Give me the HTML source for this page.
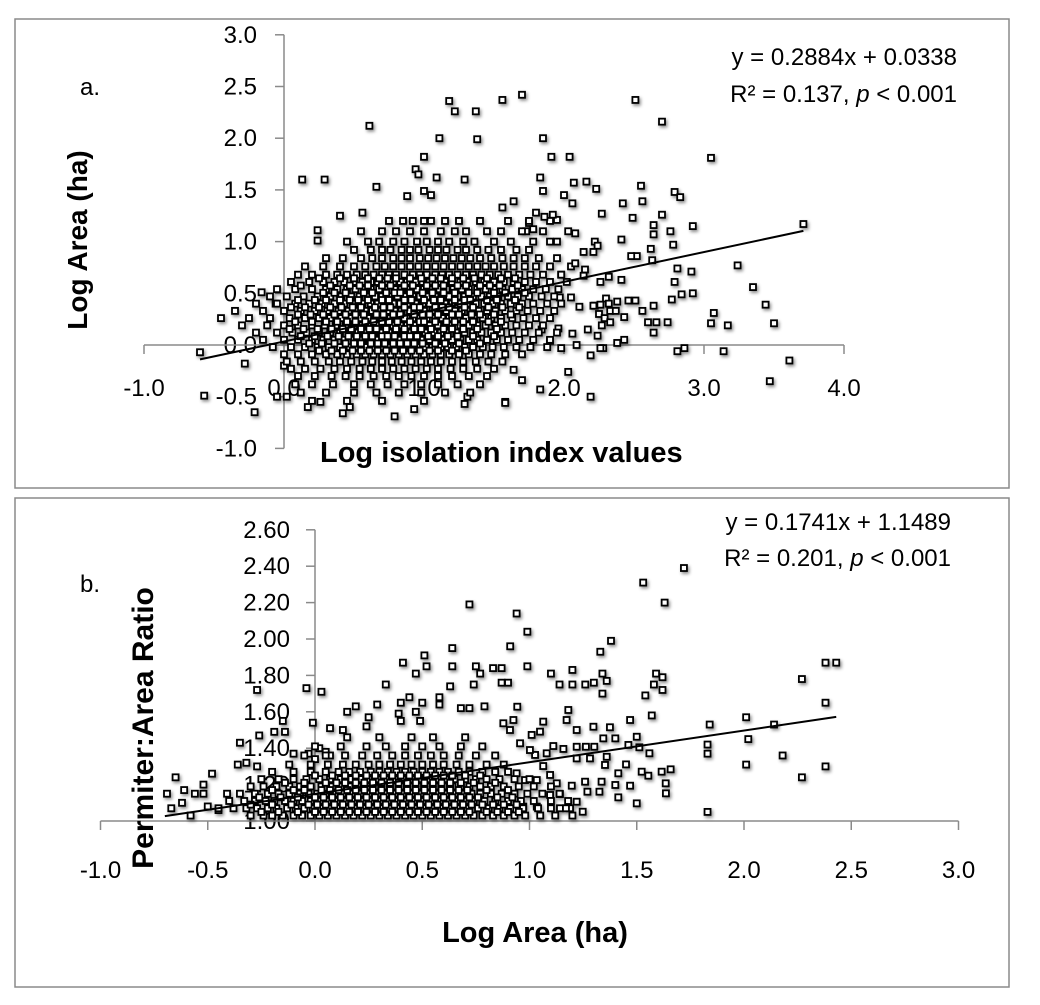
<!DOCTYPE html>
<html><head><meta charset="utf-8"><style>
html,body{margin:0;padding:0;background:#fff;}
svg text{font-family:"Liberation Sans",sans-serif;fill:#000;}
</style></head><body>
<svg id="chart" width="1040" height="1000" viewBox="0 0 1040 1000" xmlns="http://www.w3.org/2000/svg">
<defs><filter id="sh" x="-5%" y="-5%" width="110%" height="110%"><feDropShadow dx="1.5" dy="2" stdDeviation="1.5" flood-color="#000" flood-opacity="0.45"/></filter></defs>
<rect x="15" y="19" width="994" height="469" fill="none" stroke="#8a8a8a" stroke-width="1.5"/>
<rect x="15" y="498" width="994" height="489" fill="none" stroke="#8a8a8a" stroke-width="1.5"/>
<g id="ga"></g>
<g id="gb"></g>
<text x="80" y="95" font-size="24">a.</text>
<text x="80" y="592" font-size="24">b.</text>
<text x="957" y="65" font-size="24" text-anchor="end">y = 0.2884x + 0.0338</text>
<text x="957" y="102" font-size="24" text-anchor="end">R² = 0.137, <tspan font-style="italic">p</tspan> &lt; 0.001</text>
<text x="951" y="530" font-size="24" text-anchor="end">y = 0.1741x + 1.1489</text>
<text x="951" y="566" font-size="24" text-anchor="end">R² = 0.201, <tspan font-style="italic">p</tspan> &lt; 0.001</text>
<text transform="translate(87,240) rotate(-90)" font-size="28" font-weight="bold" text-anchor="middle">Log Area (ha)</text>
<text x="320" y="462" font-size="29" font-weight="bold">Log isolation index values</text>
<text transform="translate(153,728) rotate(-90)" font-size="30" font-weight="bold" text-anchor="middle">Permiter:Area Ratio</text>
<text x="535" y="942" font-size="29" font-weight="bold" text-anchor="middle">Log Area (ha)</text>
</svg>
<script>
// ---------- Panel A data ----------
const aXTicks = [-1.0, 0.0, 1.0, 2.0, 3.0, 4.0];
const aXTickLabels = ["-1.0","0.0","1.0","2.0","3.0","4.0"];
const aYTicks = [-1.0,-0.5,0.0,0.5,1.0,1.5,2.0,2.5,3.0];
const aYTickLabels = ["-1.0","-0.5","0.0","0.5","1.0","1.5","2.0","2.5","3.0"];
const aSlope = 0.2884, aIntercept = 0.0338, aLineRange = [-0.6, 3.71];
const aOutliers = [[-0.6,-0.07],[-0.28,-0.18],[-0.57,-0.49],[-0.21,-0.65],[-0.16,0.51],[-0.06,0.4],[0.13,1.6],[0.29,1.6],[0.61,2.12],[0.24,1.11],[0.24,1.01],[0.4,1.25],[0.56,1.28],[0.66,1.53],[1.18,2.36],[1.22,2.26],[1.37,2.26],[1.11,2.0],[1.38,1.99],[1.56,2.37],[1.0,1.82],[0.94,1.7],[0.96,1.65],[1.09,1.62],[1.29,1.6],[1.0,1.49],[1.05,1.45],[0.88,1.44],[0.79,-0.69],[0.93,-0.62],[0.42,-0.66],[0.47,-0.6],[0.17,-0.6],[0.26,-0.55],[1.29,-0.57],[1.31,-0.5],[1.58,-0.55],[0.0,-0.2],[0.02,-0.5],[-0.05,-0.5],
[1.7,2.42],[2.51,2.37],[2.7,2.16],[1.85,2.0],[1.91,1.82],[2.04,1.82],[3.05,1.81],[1.83,1.62],[1.85,1.49],[2.07,1.57],[2.16,1.58],[2.23,1.51],[2.0,1.45],[2.06,1.37],[2.55,1.54],[2.56,1.39],[2.79,1.48],[2.83,1.43],[2.27,1.27],[2.42,1.37],[2.49,1.23],[2.7,1.26],[2.64,1.16],[2.64,1.07],[2.76,1.1],[2.78,0.97],[2.92,1.15],[3.71,1.17],[3.24,0.77],[3.35,0.56],[3.44,0.39],[3.5,0.21],[3.61,-0.15],[3.47,-0.35],[3.14,-0.06],[3.07,0.31],[3.05,0.21],[3.17,0.19],[2.81,0.74],[2.91,0.71],[2.79,0.61],[2.77,0.44],[2.84,0.49],[2.92,0.5],[2.56,0.33],[2.64,0.38],[2.6,0.22],[2.66,0.22],[2.64,0.12],[2.74,0.22],[2.81,-0.06],[2.86,-0.03],[2.52,0.86],[2.62,0.93],[2.63,0.82],[2.41,1.02],
[2.3,0.45],[2.38,0.42],[2.46,0.43],[2.51,0.43],[2.32,0.4],[2.22,0.38],[2.26,0.39],[2.33,0.33],[2.38,0.02],[2.43,0.05],[2.19,-0.1],[2.28,-0.03],[2.03,-0.26],[1.83,-0.43],[1.7,-0.34],[1.64,-0.24],[1.58,-0.56],[2.19,-0.5],
[1.95,1.0],[2.08,1.08],[2.03,1.1],[2.14,0.9],[2.22,1.0],[2.24,0.96],[2.21,0.9],[1.9,1.2],[1.95,1.21],[1.92,1.26],[1.86,1.24],[1.8,1.28],[1.75,1.18],[1.78,1.12],[1.73,1.1],[1.56,1.33],[1.64,1.39],[1.98,0.68],[2.05,0.76],[2.08,0.79],[2.15,0.73],[2.14,0.67],[2.26,0.61],[2.32,0.66],[2.41,0.63],[2.48,0.86],
[1.97,0.46],[2.05,0.46],[2.11,0.37],[2.21,0.38],[2.25,0.3],[2.29,0.26],[2.27,0.19],[2.33,0.22],[2.37,0.33],[2.43,0.27],[1.96,0.16],[2.06,0.11],[2.09,0.0],[1.98,-0.03],[1.9,0.04],[1.84,0.15],[2.17,0.15],[2.24,0.09],[2.26,-0.03]];
const aRowY = [1.2,1.1,1.0,0.92,0.84,0.76,0.68,0.61,0.54,0.47,0.40,0.33,0.26,0.19,0.12,0.05,-0.02,-0.09,-0.16,-0.23,-0.30,-0.38,-0.46,-0.54,
0.645,0.575,0.505,0.435,0.365,0.295,0.225,0.155,0.085,0.015,-0.055];
const aRowX = [
[0.75,0.85,0.92,1.0,1.05,1.15,1.25,1.4,1.6,1.75],
[0.55,0.7,0.8,0.9,1.0,1.12,1.22,1.3,1.45,1.55,1.7,1.85],
[0.45,0.6,0.68,0.78,0.86,0.95,1.02,1.1,1.18,1.28,1.36,1.5,1.62,1.78,1.9],
[0.5,0.62,0.7,0.76,0.84,0.9,0.96,1.04,1.1,1.16,1.24,1.3,1.38,1.46,1.55,1.66,1.75],
[0.3,0.42,0.55,0.63,0.7,0.78,0.84,0.9,0.97,1.03,1.09,1.15,1.21,1.27,1.33,1.4,1.48,1.56,1.64,1.72,1.82,1.95],
[0.15,0.28,0.4,0.5,0.58,0.66,0.72,0.78,0.84,0.9,0.96,1.02,1.08,1.14,1.2,1.26,1.32,1.38,1.44,1.5,1.57,1.64,1.72,1.8,1.9],
[0.1,0.2,0.3,0.38,0.45,0.52,0.58,0.64,0.7,0.75,0.8,0.86,0.92,0.97,1.02,1.08,1.13,1.18,1.24,1.3,1.35,1.41,1.47,1.53,1.6,1.68,1.76,1.85,1.98],
[0.05,0.18,0.28,0.36,0.43,0.5,0.56,0.62,0.67,0.72,0.78,0.83,0.88,0.94,0.99,1.04,1.1,1.15,1.2,1.26,1.31,1.37,1.43,1.5,1.57,1.64,1.72,1.8,1.9,2.02],
[-0.05,0.08,0.2,0.3,0.38,0.45,0.51,0.57,0.62,0.68,0.73,0.79,0.84,0.89,0.95,1.0,1.05,1.11,1.16,1.21,1.27,1.32,1.38,1.44,1.5,1.56,1.63,1.7,1.78,1.87,1.96],
[-0.1,0.02,0.14,0.24,0.33,0.41,0.48,0.54,0.6,0.65,0.7,0.76,0.81,0.86,0.92,0.97,1.02,1.08,1.13,1.18,1.24,1.29,1.35,1.41,1.47,1.53,1.6,1.67,1.75,1.84,1.93],
[-0.2,-0.05,0.08,0.18,0.27,0.36,0.43,0.5,0.56,0.62,0.67,0.72,0.78,0.83,0.88,0.94,0.99,1.04,1.1,1.15,1.2,1.26,1.31,1.37,1.43,1.49,1.55,1.62,1.7,1.78,1.88,1.98],
[-0.35,-0.15,0.0,0.12,0.22,0.31,0.39,0.46,0.52,0.58,0.63,0.68,0.74,0.79,0.84,0.9,0.95,1.0,1.06,1.11,1.16,1.22,1.27,1.33,1.39,1.45,1.51,1.58,1.66,1.74,1.83,1.93],
[-0.45,-0.25,-0.1,0.04,0.15,0.25,0.33,0.41,0.48,0.54,0.6,0.65,0.7,0.76,0.81,0.86,0.92,0.97,1.02,1.08,1.13,1.18,1.24,1.3,1.36,1.42,1.48,1.55,1.63,1.71,1.8,1.9],
[-0.3,-0.12,0.0,0.1,0.2,0.29,0.37,0.44,0.5,0.56,0.62,0.67,0.72,0.78,0.83,0.88,0.94,0.99,1.04,1.1,1.15,1.2,1.26,1.32,1.38,1.44,1.51,1.58,1.66,1.75,1.85],
[-0.2,-0.05,0.06,0.16,0.25,0.33,0.4,0.47,0.53,0.59,0.64,0.69,0.75,0.8,0.85,0.91,0.96,1.01,1.07,1.12,1.17,1.23,1.29,1.35,1.41,1.48,1.55,1.63,1.72,1.82,1.95],
[-0.15,0.0,0.1,0.2,0.28,0.36,0.43,0.5,0.56,0.61,0.66,0.72,0.77,0.82,0.88,0.93,0.98,1.04,1.09,1.14,1.2,1.26,1.32,1.38,1.45,1.52,1.6,1.68,1.78,1.9],
[-0.08,0.05,0.15,0.24,0.32,0.4,0.47,0.53,0.58,0.64,0.69,0.74,0.8,0.85,0.9,0.96,1.01,1.06,1.12,1.17,1.23,1.29,1.35,1.42,1.49,1.57,1.66,1.76,1.88],
[0.0,0.1,0.2,0.3,0.38,0.45,0.52,0.58,0.64,0.7,0.76,0.82,0.88,0.94,1.0,1.06,1.12,1.18,1.25,1.32,1.4,1.48,1.58,1.7],
[0.02,0.12,0.22,0.32,0.4,0.48,0.56,0.63,0.7,0.77,0.84,0.91,0.98,1.05,1.12,1.2,1.28,1.37,1.46,1.56],
[0.05,0.15,0.26,0.36,0.45,0.54,0.62,0.7,0.78,0.86,0.94,1.02,1.1,1.19,1.28,1.38,1.5],
[0.1,0.22,0.34,0.44,0.54,0.64,0.73,0.82,0.91,1.0,1.1,1.2,1.32,1.45],
[0.08,0.2,0.35,0.5,0.62,0.74,0.86,0.98,1.1,1.24,1.4],
[0.12,0.3,0.5,0.66,0.82,0.98,1.15,1.33],
[0.2,0.45,0.7,1.0],
[0.25,0.4,0.5,0.6,0.68,0.74,0.8,0.9,0.98,1.06,1.12,1.2,1.28,1.36,1.45,1.55,1.65],
[0.12,0.33,0.47,0.54,0.6,0.7,0.76,0.86,0.92,1.02,1.08,1.14,1.24,1.3,1.4,1.47,1.54,1.67],
[0.28,0.36,0.44,0.57,0.63,0.73,0.79,0.83,0.9,0.99,1.06,1.14,1.22,1.32,1.38,1.5,1.58,1.72],
[0.1,0.22,0.3,0.4,0.47,0.53,0.6,0.7,0.75,0.86,0.91,1.0,1.07,1.12,1.22,1.29,1.33,1.45,1.52,1.65],
[0.05,0.15,0.25,0.33,0.41,0.49,0.55,0.65,0.71,0.76,0.86,0.93,0.97,1.08,1.13,1.18,1.29,1.35,1.46,1.56,1.68],
[0.1,0.19,0.28,0.36,0.44,0.51,0.57,0.66,0.71,0.78,0.83,0.93,0.99,1.04,1.1,1.2,1.25,1.34,1.4,1.5,1.62],
[0.08,0.2,0.3,0.38,0.45,0.51,0.58,0.64,0.7,0.75,0.81,0.9,0.97,1.0,1.08,1.16,1.22,1.28,1.35,1.46,1.55],
[0.04,0.14,0.24,0.34,0.42,0.48,0.55,0.61,0.66,0.73,0.8,0.86,0.93,0.98,1.05,1.14,1.2,1.28,1.38,1.52],
[0.12,0.22,0.31,0.39,0.46,0.52,0.58,0.63,0.7,0.74,0.79,0.86,0.9,0.95,1.03,1.1,1.17,1.24,1.35,1.5],
[0.18,0.27,0.36,0.44,0.5,0.55,0.62,0.67,0.72,0.78,0.83,0.88,0.93,0.99,1.08,1.15,1.25,1.4],
[0.25,0.34,0.42,0.49,0.55,0.61,0.67,0.73,0.79,0.85,0.91,0.97,1.04,1.1,1.2,1.3]];

// ---------- Panel B data ----------
const bXTicks = [-1.0,-0.5,0.0,0.5,1.0,1.5,2.0,2.5,3.0];
const bXTickLabels = ["-1.0","-0.5","0.0","0.5","1.0","1.5","2.0","2.5","3.0"];
const bYTicks = [1.0,1.2,1.4,1.6,1.8,2.0,2.2,2.4,2.6];
const bYTickLabels = ["1.00","1.20","1.40","1.60","1.80","2.00","2.20","2.40","2.60"];
const bSlope = 0.1741, bIntercept = 1.1489, bLineRange = [-0.7, 2.43];
const bOutliers = [[-0.69,1.15],[-0.65,1.24],[-0.67,1.07],[-0.62,1.1],[-0.58,1.03],[-0.61,1.17],[-0.56,1.15],[-0.52,1.15],[-0.52,1.2],[-0.48,1.26],[-0.41,1.15],[-0.45,1.06],[-0.5,1.08],[-0.35,1.43],[-0.26,1.47],[-0.27,1.72],[-0.36,1.31],[-0.32,1.32],[-0.27,1.3],[-0.19,1.49],[-0.14,1.49],[-0.15,1.55],[-0.1,1.37],[-0.04,1.73],[0.03,1.71],[-0.01,1.54],[-0.03,1.37],[0.02,1.4],[0.05,1.38],[0.07,1.36],[0.0,1.34],
[0.07,1.51],[0.13,1.5],[0.19,1.63],[0.15,1.6],[0.24,1.52],[0.25,1.57],[0.29,1.64],[0.33,1.75],[0.39,1.59],[0.4,1.55],[0.4,1.65],[0.44,1.68],[0.47,1.6],[0.5,1.65],[0.49,1.55],[0.41,1.87],[0.47,1.81],[0.51,1.91],[0.52,1.85],[0.58,1.68],[0.64,1.95],[0.64,1.85],[0.63,1.74],[0.58,1.64],[0.72,2.19],[0.68,1.62],[0.72,1.62],[0.74,1.75],[0.75,1.85],[0.77,1.81],[0.79,1.63],[0.83,1.84],[0.87,1.84],[0.87,1.76],[0.9,1.76],[0.91,1.96],[0.94,2.14],
[1.72,2.39],[1.53,2.31],[1.63,2.2],[0.99,2.04],[1.38,1.99],[1.33,1.93],[0.99,1.85],[1.1,1.81],[1.14,1.75],[1.2,1.83],[1.2,1.75],[1.26,1.75],[1.3,1.76],[1.34,1.81],[1.36,1.77],[1.34,1.7],[1.59,1.81],[1.62,1.79],[1.58,1.75],[1.62,1.72],[1.54,1.69],[1.57,1.58],[2.38,1.87],[2.43,1.87],[2.27,1.78],[2.38,1.65],[2.38,1.3],[2.27,1.24],[2.01,1.57],[2.02,1.45],[2.01,1.31],[2.14,1.53],[2.18,1.36],[1.84,1.53],[1.83,1.42],[1.83,1.37],[1.83,1.05],
[0.943,1.628],[0.925,1.555],[1.064,1.546],[1.181,1.61],[1.173,1.555],[1.22,1.5],[1.298,1.518],[1.375,1.515],[1.4,1.454],[1.344,1.454],[1.5,1.463],[1.469,1.555],[1.461,1.418],[1.512,1.405],[1.559,1.372],[1.36,1.353],[1.45,1.311],[1.414,1.262],[1.523,1.271],[1.554,1.249],[1.616,1.271],[1.658,1.284],[1.635,1.207],[1.636,1.152],[1.5,1.097],[1.4,1.198],[1.414,1.13],[1.469,1.194],[1.326,1.161],[1.27,1.161],[1.336,1.216],[1.259,1.216],[1.197,1.194],[1.127,1.207],[1.142,1.148],[1.22,1.106],[1.248,1.051],[1.142,1.07],[1.189,1.07],[1.096,1.143],[1.034,1.079],[0.971,1.079],[0.925,1.064],[1.049,1.491],[1.01,1.473],[1.111,1.412],[1.158,1.396],[1.22,1.408],[1.263,1.408],[1.302,1.408],[1.22,1.344],[1.282,1.344],[1.352,1.308],[1.064,1.302],[1.096,1.253],[1.034,1.225],[0.979,1.225],[0.94,1.262],[1.026,1.363],[1.08,1.372],[1.002,1.39],[0.956,1.427],[0.909,1.5],[0.878,1.537]];
const bRowY = [1.03,1.07,1.11,1.15,1.19,1.23,1.27,1.31,1.36,1.41,1.46,1.05,1.09,1.13,1.17,1.21,1.25];
const bRowX = [
[-0.3,-0.24,-0.2,-0.15,-0.1,-0.06,-0.02,0.02,0.06,0.1,0.14,0.18,0.22,0.26,0.3,0.34,0.38,0.42,0.46,0.5,0.54,0.58,0.62,0.66,0.7,0.74,0.78,0.83,0.88,0.93,0.98,1.05,1.12,1.2],
[-0.45,-0.38,-0.32,-0.27,-0.22,-0.18,-0.13,-0.09,-0.05,-0.01,0.03,0.07,0.11,0.15,0.19,0.23,0.27,0.31,0.35,0.39,0.43,0.47,0.51,0.55,0.59,0.63,0.67,0.71,0.76,0.81,0.86,0.91,0.97,1.04,1.1,1.17],
[-0.4,-0.33,-0.28,-0.23,-0.19,-0.14,-0.1,-0.06,-0.02,0.02,0.06,0.1,0.14,0.18,0.22,0.26,0.3,0.34,0.38,0.42,0.46,0.5,0.54,0.58,0.62,0.66,0.7,0.74,0.79,0.84,0.9,0.96,1.02,1.1,1.18],
[-0.35,-0.28,-0.22,-0.17,-0.12,-0.07,-0.03,0.01,0.05,0.09,0.13,0.17,0.21,0.25,0.29,0.33,0.37,0.41,0.45,0.49,0.53,0.57,0.61,0.65,0.69,0.73,0.77,0.82,0.87,0.93,0.99,1.06,1.14],
[-0.3,-0.24,-0.18,-0.12,-0.07,-0.02,0.03,0.08,0.12,0.16,0.2,0.24,0.28,0.32,0.36,0.4,0.44,0.48,0.52,0.56,0.6,0.64,0.68,0.72,0.77,0.82,0.88,0.95,1.02,1.1],
[-0.25,-0.17,-0.1,-0.04,0.02,0.07,0.12,0.17,0.21,0.25,0.29,0.33,0.37,0.41,0.45,0.49,0.53,0.57,0.61,0.65,0.7,0.75,0.8,0.86,0.93,1.0],
[-0.2,-0.1,-0.02,0.05,0.11,0.16,0.21,0.26,0.3,0.34,0.38,0.42,0.46,0.5,0.54,0.58,0.62,0.67,0.72,0.78,0.84,0.9],
[-0.12,-0.02,0.06,0.13,0.19,0.25,0.3,0.35,0.4,0.45,0.5,0.55,0.6,0.66,0.72,0.8,0.88],
[-0.05,0.05,0.14,0.22,0.29,0.36,0.42,0.48,0.54,0.6,0.67,0.75,0.84],
[0.0,0.12,0.24,0.33,0.42,0.5,0.58,0.68,0.78],
[0.15,0.3,0.45,0.55,0.7],
[-0.25,-0.17,-0.08,0.0,0.04,0.08,0.12,0.16,0.2,0.24,0.28,0.32,0.36,0.4,0.44,0.48,0.52,0.56,0.6,0.64,0.68,0.72,0.8,0.85,0.9,0.95],
[-0.3,-0.2,-0.11,-0.03,0.01,0.05,0.09,0.13,0.17,0.21,0.25,0.29,0.33,0.37,0.41,0.45,0.49,0.53,0.57,0.61,0.65,0.69,0.73,0.78,0.83,0.88,0.94],
[-0.26,-0.16,-0.08,0.0,0.04,0.08,0.12,0.16,0.2,0.24,0.28,0.32,0.36,0.4,0.44,0.48,0.52,0.56,0.6,0.64,0.68,0.72,0.76,0.85,0.92],
[-0.2,-0.1,-0.05,0.03,0.07,0.11,0.15,0.19,0.23,0.27,0.31,0.35,0.39,0.43,0.47,0.51,0.55,0.59,0.63,0.67,0.71,0.8,0.9],
[-0.14,-0.05,0.05,0.1,0.14,0.19,0.23,0.27,0.31,0.35,0.39,0.43,0.47,0.51,0.55,0.59,0.63,0.68,0.74,0.84],
[0.0,0.08,0.14,0.19,0.24,0.28,0.32,0.36,0.4,0.44,0.48,0.52,0.56,0.6,0.64,0.7,0.77]];

const NS = "http://www.w3.org/2000/svg";
function mk(tag, attrs, parent){ const e=document.createElementNS(NS,tag); for(const k in attrs) e.setAttribute(k,attrs[k]); parent.appendChild(e); return e; }

function drawPanel(g, cfg){
  const sx = v => cfg.x0 + v*cfg.kx, sy = v => cfg.y0 - (v-cfg.yBase)*cfg.ky;
  const ya = mk('line',{x1:sx(0),x2:sx(0),y1:sy(cfg.yTicks[cfg.yTicks.length-1]),y2:sy(cfg.yTicks[0]),stroke:'#8a8a8a','stroke-width':1.5},g);
  
  
  cfg.yTicks.forEach((t,i)=>{
    const tk = mk('line',{x1:sx(0)-9,x2:sx(0),y1:sy(t),y2:sy(t),stroke:'#8a8a8a','stroke-width':1.5},g);
    
    
    const tl = mk('text',{x:cfg.yLabelX,y:sy(t)+8,'font-size':24,'text-anchor':'end'},g);
    tl.textContent = cfg.yLabels[i];
    
    
  });
  const xa = mk('line',{x1:sx(cfg.xTicks[0]),x2:sx(cfg.xTicks[cfg.xTicks.length-1]),y1:sy(cfg.yBase),y2:sy(cfg.yBase),stroke:'#8a8a8a','stroke-width':1.5},g);
  
  
  cfg.xTicks.forEach((t,i)=>{
    const tk = mk('line',{x1:sx(t),x2:sx(t),y1:sy(cfg.yBase),y2:sy(cfg.yBase)+9,stroke:'#8a8a8a','stroke-width':1.5},g);
    
    
    const tl = mk('text',{x:sx(t),y:cfg.xLabelY,'font-size':24,'text-anchor':'middle'},g);
    tl.textContent = cfg.xLabels[i];
    
    
  });
  const pg = mk('g',{filter:'url(#sh)'},g);
  
  
  const pts = cfg.outliers.slice();
  cfg.rowY.forEach((y,i)=>cfg.rowX[i].forEach(x=>pts.push([x,y])));
  pts.forEach(p=>{
    const r = mk('rect',{x:sx(p[0])-3,y:sy(p[1])-3,width:6,height:6,fill:'#fff',stroke:'#000','stroke-width':1.8},pg);
    
    
  });
  const l = mk('line',{x1:sx(cfg.range[0]),y1:sy(cfg.slope*cfg.range[0]+cfg.intercept),x2:sx(cfg.range[1]),y2:sy(cfg.slope*cfg.range[1]+cfg.intercept),stroke:'#000','stroke-width':2},g);
  
  
}

drawPanel(document.getElementById('ga'),{p:'panel-a',x0:284,kx:140,y0:345,yBase:0,ky:103.4,
  xTicks:aXTicks,xLabels:aXTickLabels,yTicks:aYTicks,yLabels:aYTickLabels,yLabelX:257,xLabelY:396,
  outliers:aOutliers,rowY:aRowY,rowX:aRowX,slope:aSlope,intercept:aIntercept,range:aLineRange});
drawPanel(document.getElementById('gb'),{p:'panel-b',x0:315,kx:214.5,y0:821,yBase:1.0,ky:182,
  xTicks:bXTicks,xLabels:bXTickLabels,yTicks:bYTicks,yLabels:bYTickLabels,yLabelX:290,xLabelY:878,
  outliers:bOutliers,rowY:bRowY,rowX:bRowX,slope:bSlope,intercept:bIntercept,range:bLineRange});
</script>
</body></html>
